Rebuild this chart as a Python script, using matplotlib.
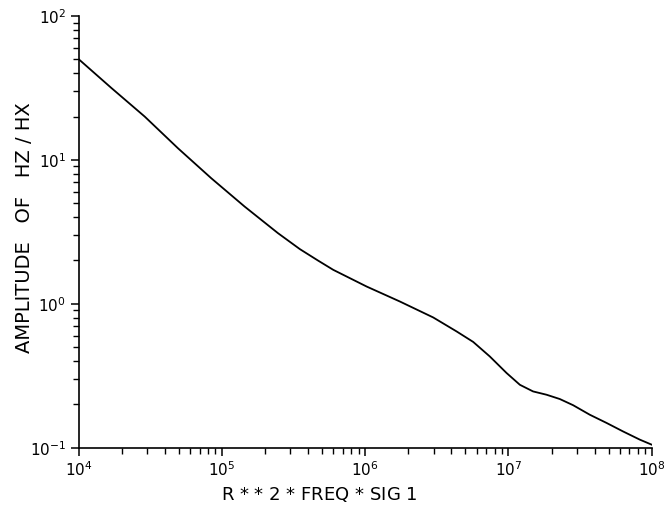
import numpy as np
import matplotlib.pyplot as plt
from matplotlib.ticker import LogLocator, NullFormatter

# curve (log10 of x and y)
logx = [4.0, 4.228, 4.461, 4.693, 4.925, 5.158, 5.391, 5.544, 5.670, 5.777,
        6.010, 6.242, 6.475, 6.638, 6.754, 6.870, 6.987, 7.080, 7.172, 7.266,
        7.359, 7.452, 7.568, 7.685, 7.800, 7.917, 8.0]
logy = [1.70, 1.500, 1.301, 1.081, 0.873, 0.676, 0.491, 0.38, 0.301, 0.236,
        0.120, 0.016, -0.095, -0.192, -0.265, -0.366, -0.481, -0.563, -0.609, -0.632,
        -0.662, -0.705, -0.771, -0.828, -0.887, -0.944, -0.979]

x = 10 ** np.array(logx)
y = 10 ** np.array(logy)

fig = plt.figure(figsize=(6.69, 5.16), dpi=100)
ax = fig.add_axes([0.1176, 0.1324, 0.8565, 0.8366])
ax.plot(x, y, color='black', lw=1.3)

ax.set_xscale('log')
ax.set_yscale('log')
ax.set_xlim(1e4, 1e8)
ax.set_ylim(1e-1, 1e2)

for s in ['top', 'right']:
    ax.spines[s].set_visible(False)
for s in ['left', 'bottom']:
    ax.spines[s].set_linewidth(1.2)

ax.xaxis.set_minor_locator(LogLocator(base=10, subs=np.arange(2, 10)))
ax.yaxis.set_minor_locator(LogLocator(base=10, subs=np.arange(2, 10)))
ax.xaxis.set_minor_formatter(NullFormatter())
ax.yaxis.set_minor_formatter(NullFormatter())
ax.tick_params(which='major', direction='out', length=6, width=1.1, labelsize=11, pad=3)
ax.tick_params(which='minor', direction='out', length=4, width=1.0)

# axis titles placed like the original
fig.text(319 / 669, 1 - 495 / 516, 'R $*$ $*$ 2 $*$ FREQ $*$ SIG 1', fontsize=13,
         ha='center', va='center')
fig.text(25 / 669, 1 - 228 / 516, 'AMPLITUDE   OF   HZ / HX', fontsize=14,
         rotation=90, ha='center', va='center')

fig.savefig('out.png', dpi=100)
